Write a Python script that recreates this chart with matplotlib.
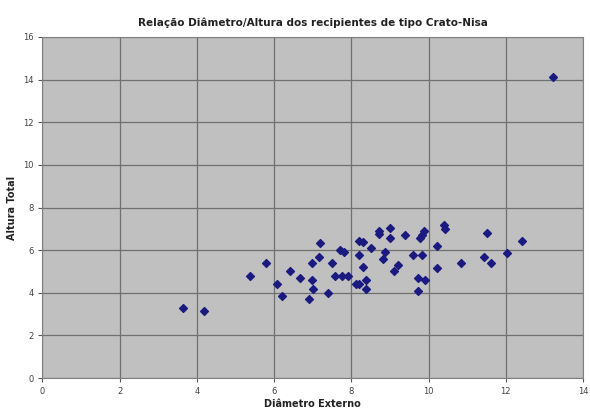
import matplotlib.pyplot as plt

diametro = [3.65, 4.19, 5.38, 5.80, 6.08, 6.21, 6.40, 6.68, 6.90, 6.98,
            6.98, 7.00, 7.17, 7.20, 7.39, 7.50, 7.59, 7.72, 7.76, 7.80,
            7.91, 8.11, 8.19, 8.19, 8.21, 8.30, 8.31, 8.39, 8.39, 8.51,
            8.71, 8.71, 8.81, 8.88, 9.01, 9.01, 9.10, 9.20, 9.40, 9.59,
            9.72, 9.73, 9.79, 9.82, 9.82, 9.88, 9.92, 10.22, 10.22, 10.40,
            10.44, 10.83, 11.43, 11.52, 11.63, 12.04, 12.43, 13.23]
altura = [3.27, 3.16, 4.78, 5.41, 4.39, 3.84, 5.01, 4.70, 3.70, 5.41,
          4.62, 4.17, 5.70, 6.33, 4.00, 5.41, 4.78, 6.03, 4.78, 5.90,
          4.78, 4.39, 4.39, 6.42, 5.79, 6.36, 5.19, 4.62, 4.16, 6.10,
          6.89, 6.74, 5.59, 5.90, 7.04, 6.57, 5.00, 5.31, 6.72, 5.78,
          4.70, 4.08, 6.56, 6.69, 5.78, 6.91, 4.62, 6.18, 5.17, 7.16,
          6.98, 5.41, 5.70, 6.82, 5.41, 5.88, 6.41, 14.10]

xticks = [0, 2, 4, 6, 8, 10, 12, 14]
yticks = [0, 2, 4, 6, 8, 10, 12, 14, 16]

fig = plt.figure(figsize=(5.9, 4.15), dpi=100)
ax = fig.add_axes([0.072, 0.089, 0.916, 0.822])
ax.set_facecolor('#c0c0c0')

ax.scatter(diametro, altura, marker='D', s=16, color='#1a1a80', zorder=3)

ax.set_xlim(0, 14)
ax.set_ylim(0, 16)
ax.set_xticks(xticks)
ax.set_yticks(yticks)
ax.grid(True, color='#707070', linewidth=0.9)
ax.set_axisbelow(True)
ax.tick_params(labelsize=6, colors='#555555', length=3, labelcolor='#444444')
for s in ax.spines.values():
    s.set_color('#808080')
    s.set_linewidth(0.8)

ax.set_title('Relação Diâmetro/Altura dos recipientes de tipo Crato-Nisa',
             fontsize=7.5, fontweight='bold', color='#222222', pad=8)
ax.set_xlabel('Diâmetro Externo', fontsize=7, fontweight='bold', color='#222222', labelpad=2)
ax.set_ylabel('Altura Total', fontsize=7, fontweight='bold', color='#222222', labelpad=4)

fig.savefig('out.png', dpi=100)
